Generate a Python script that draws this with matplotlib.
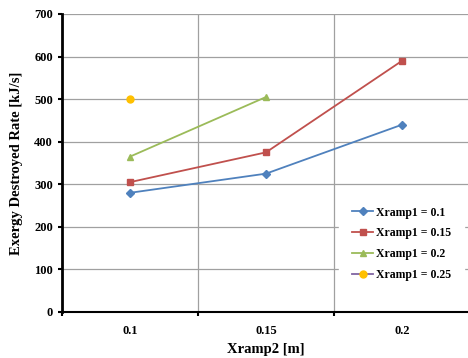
import numpy as np
import matplotlib.pyplot as plt

plt.rcParams['font.family'] = ['Liberation Serif', 'DejaVu Serif']
plt.rcParams['font.weight'] = 'bold'

# data
categories = ['0.1', '0.15', '0.2']
xramp1_01 = [280, 325, 440]
xramp1_015 = [305, 375, 590]
xramp1_02 = [365, 505]
xramp1_025 = [500]

fig = plt.figure(figsize=(4.68, 3.58), dpi=100)
ax = fig.add_axes([62 / 468, 46 / 358, 408 / 468, 298 / 358])

x = np.arange(len(categories))
ax.plot(x, xramp1_01, color='#4F81BD', marker='D', markersize=4, lw=1.3,
        label='Xramp1 = 0.1')
ax.plot(x, xramp1_015, color='#C0504D', marker='s', markersize=5, lw=1.3,
        label='Xramp1 = 0.15')
ax.plot(x[:len(xramp1_02)], xramp1_02, color='#9BBB59', marker='^', markersize=5,
        lw=1.3, label='Xramp1 = 0.2')
ax.plot(x[:len(xramp1_025)], xramp1_025, color='#8064A2', marker='o', markersize=5,
        markerfacecolor='#FFC000', markeredgecolor='#FFC000', lw=1.3,
        label='Xramp1 = 0.25')

ax.set_xlim(-0.5, 2.5)
ax.set_ylim(0, 700)
ax.set_yticks(np.arange(0, 701, 100))
ax.set_xticks(x)
ax.set_xticklabels(categories)
ax.set_xticks([-0.5, 0.5, 1.5, 2.5], minor=True)
ax.tick_params(axis='x', which='major', length=0, pad=9, labelsize=9)
ax.tick_params(axis='x', which='minor', length=3, width=1.5, direction='out')
ax.tick_params(axis='y', length=3, width=1.5, direction='out', labelsize=9)

ax.grid(axis='y', color='#a0a0a0', lw=0.9)
ax.grid(axis='x', which='minor', color='#a0a0a0', lw=0.9)
ax.set_axisbelow(True)

for s in ['top', 'right']:
    ax.spines[s].set_visible(False)
ax.spines['left'].set_linewidth(2)
ax.spines['bottom'].set_linewidth(1.5)

ax.set_xlabel('Xramp2 [m]', fontsize=10.5, fontweight='bold', labelpad=5)
ax.set_ylabel('Exergy Destroyed Rate [kJ/s]', fontsize=10.5, fontweight='bold', labelpad=8)

leg = ax.legend(loc='lower right', bbox_to_anchor=(0.985, 0.06), fontsize=8.5,
                frameon=True, fancybox=False, edgecolor='white', framealpha=1,
                handlelength=1.8, handletextpad=0.2, labelspacing=0.75,
                borderpad=1.1, borderaxespad=0)

fig.savefig('out.png', dpi=100)
